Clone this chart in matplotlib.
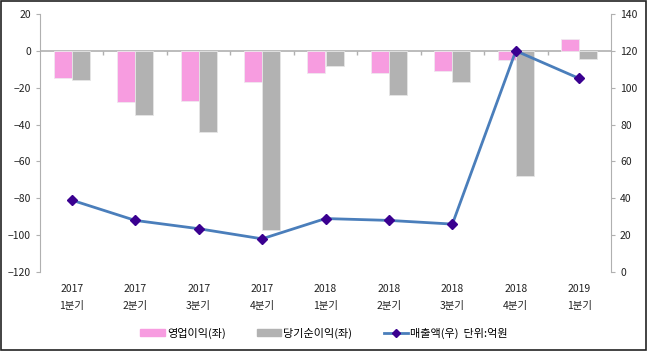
import matplotlib
matplotlib.use("Agg")
import matplotlib.pyplot as plt
import numpy as np
from matplotlib.patches import Rectangle

plt.rcParams['font.family'] = ['Noto Sans CJK KR', 'DejaVu Sans']

years = ["2017", "2017", "2017", "2017", "2018", "2018", "2018", "2018", "2019"]
quarters = ["1분기", "2분기", "3분기", "4분기", "1분기", "2분기", "3분기", "4분기", "1분기"]
op_profit = [-15, -28, -27, -17, -12, -12, -11, -5, 6.5]
net_profit = [-16, -35, -44, -97, -8, -24, -17, -68, -4.3]
sales = [39, 28, 23.5, 18, 29, 28, 26, 120, 105]

fig = plt.figure(figsize=(6.47, 3.51), dpi=100)
ax = fig.add_axes([40/647, 1-272/351, (611-40)/647, (272-14)/351])
ax2 = ax.twinx()

x = np.arange(len(years))
w = 0.285
gc = '#b0b0b0'
ax.bar(x - w/2, op_profit, w, color='#f79ce0', edgecolor='#f0e8ef', linewidth=0.6, zorder=2)
ax.bar(x + w/2, net_profit, w, color='#b2b2b2', edgecolor='#e6e6e6', linewidth=0.6, zorder=2)
ax.axhline(0, color=gc, lw=1.2, zorder=1)
ax.vlines(x[:-1] + 0.5, -2, 0, color=gc, lw=1)

ax.set_ylim(-120, 20)
ax.set_yticks(np.arange(-120, 21, 20))
ax.set_xlim(-0.5, len(x) - 0.5)
ax.set_xticks(x)
ax.set_xticklabels([f"{y}\n{q}" for y, q in zip(years, quarters)], fontsize=7.5,
                   linespacing=1.8, color='#222222')
ax.tick_params(axis='x', length=0, pad=9)
ax.tick_params(axis='y', labelsize=7.5, colors='#222222', length=3, color=gc)

ax2.plot(x, sales, color='#4a7ebb', lw=2, marker='D', markersize=5.5,
         markerfacecolor='#3a0090', markeredgecolor='#3a0090', zorder=3)
ax2.set_ylim(0, 140)
ax2.set_yticks(np.arange(0, 141, 20))
ax2.tick_params(axis='y', labelsize=7.5, colors='#222222', length=3, color=gc)

for a in (ax, ax2):
    a.spines['top'].set_visible(False)
    a.spines['bottom'].set_visible(False)
    a.spines['left'].set_color(gc)
    a.spines['right'].set_color(gc)
ax.spines['right'].set_visible(False)
ax2.spines['left'].set_visible(False)

from matplotlib.lines import Line2D
from matplotlib.patches import Patch
handles = [Patch(color='#f79ce0'), Patch(color='#b2b2b2'),
           Line2D([], [], color='#4a7ebb', lw=2, marker='D', markersize=4,
                  markerfacecolor='#3a0090', markeredgecolor='#3a0090')]
labels = ['영업이익(좌)', '당기순이익(좌)', '매출액(우)  단위:억원']
fig.legend(handles, labels, loc='center', bbox_to_anchor=(324/647, 1-333/351), ncol=3,
           frameon=False, fontsize=8, handlelength=2.2, handleheight=0.6,
           columnspacing=2.8, handletextpad=0.2)

fig.add_artist(Rectangle((0.0015, 0.003), 0.997, 0.994, transform=fig.transFigure,
                         fill=False, edgecolor='#222222', lw=1.2))

fig.savefig("out.png", dpi=100)
